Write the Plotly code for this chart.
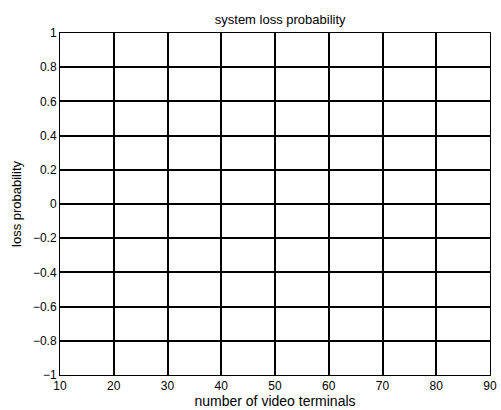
import plotly.graph_objects as go

x_ticks = [10, 20, 30, 40, 50, 60, 70, 80, 90]
y_ticks = [-1, -0.8, -0.6, -0.4, -0.2, 0, 0.2, 0.4, 0.6, 0.8, 1]
y_tick_labels = ["\u22121", "\u22120.8", "\u22120.6", "\u22120.4", "\u22120.2", "0", "0.2", "0.4", "0.6", "0.8", "1"]
title = "system loss probability"
x_label = "number of video terminals"
y_label = "loss probability"

fig = go.Figure()
fig.add_trace(go.Scatter(x=[], y=[], mode="lines", showlegend=False))

fam = "Liberation Sans, Arial, sans-serif"
tick_font = dict(family=fam, size=12, color="black")
title_font = dict(family=fam, size=13, color="black")
fig.update_layout(
    width=501, height=410,
    margin=dict(l=60, r=11, t=33, b=35),
    paper_bgcolor="white", plot_bgcolor="white",
    font=tick_font,
    title=dict(text=title, x=0.512, xref="paper", xanchor="center",
               y=1 - 19.5 / 410, yref="container", yanchor="middle", font=title_font),
    showlegend=False,
)
fig.update_xaxes(
    range=[x_ticks[0], x_ticks[-1]], tickmode="array", tickvals=x_ticks, ticktext=[str(v) for v in x_ticks],
    showgrid=True, gridcolor="black", gridwidth=2, zeroline=False,
    showline=True, linecolor="black", linewidth=1, mirror=True,
    ticks="", ticklen=0, automargin=False,
    title=dict(text=x_label, standoff=2, font=dict(family=fam, size=14, color="black")), tickfont=tick_font,
)
fig.update_yaxes(
    range=[y_ticks[0], y_ticks[-1]], tickmode="array", tickvals=y_ticks, ticktext=y_tick_labels,
    showgrid=True, gridcolor="black", gridwidth=2, zeroline=False,
    showline=True, linecolor="black", linewidth=1, mirror=True,
    ticks="", ticklen=0, automargin=False,
    title=dict(text=y_label, standoff=8, font=title_font), tickfont=tick_font,
)

fig.write_html("out.html")
